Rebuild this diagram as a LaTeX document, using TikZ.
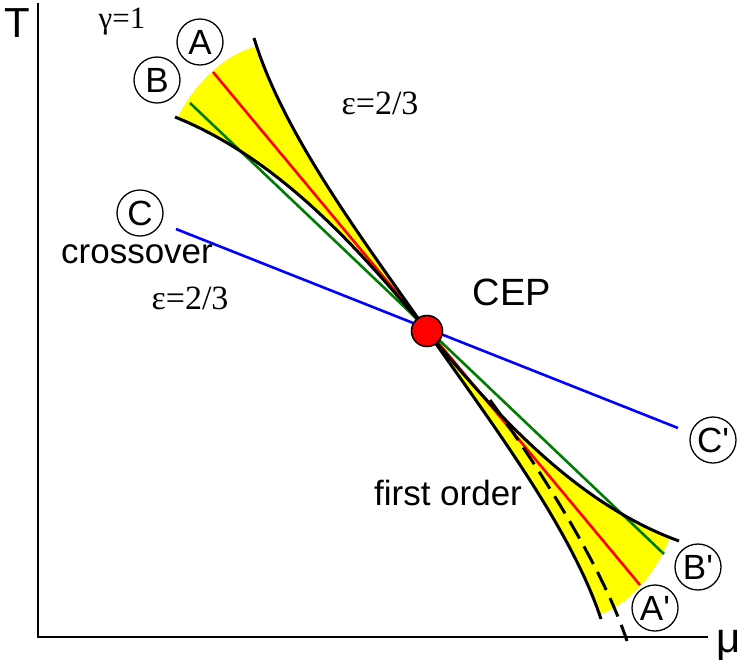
\documentclass[tikz,border=0pt]{standalone}
\usepackage{fontspec}
\newfontfamily\labsans{Liberation Sans}
\newfontfamily\labserif{Liberation Serif}
\definecolor{fanyellow}{RGB}{255,255,0}
\definecolor{linered}{RGB}{255,0,0}
\definecolor{linegreen}{RGB}{0,125,0}
\definecolor{lineblue}{RGB}{0,0,255}
\begin{document}
\begin{tikzpicture}[x=1pt,y=-1pt,
  curve/.style={line width=3pt, black},
  ray/.style={line width=2.6pt},
  circlab/.style={draw, circle, line width=1.3pt, minimum size=46pt, inner sep=0pt,
    font=\labsans\fontsize{35}{35}\selectfont},
  sanstext/.style={inner sep=0pt, font=\labsans\fontsize{#1}{#1}\selectfont},
  seriftext/.style={inner sep=0pt, font=\labserif\fontsize{#1}{#1}\selectfont}]
\useasboundingbox (0,0) rectangle (747,665);

% key points
\coordinate (cep) at (427,331);
\coordinate (urtop) at (254,38);
\coordinate (ulend) at (175,117);
\coordinate (llend) at (601,619);
\coordinate (lrend) at (679,541);

% yellow fans
\fill[fanyellow] (255,47) .. controls (283,134) and (364,241) .. (cep)
  .. controls (357,246) and (277,158) .. (178,117)
  .. controls (192,88) and (222,55) .. (255,47) -- cycle;
\fill[fanyellow] (cep) .. controls (490,421) and (571,528) .. (601,614)
  .. controls (630,603) and (655,575) .. (670,537)
  .. controls (577,504) and (497,416) .. (cep) -- cycle;

% axes
\coordinate (ytop) at (38,3);
\coordinate (orig) at (38,637);
\coordinate (xend) at (708,637);
\draw[line width=2pt] (ytop) -- (orig) -- (xend);
\node[sanstext=42] (tlab) at (17,23) {T};
\node[sanstext=42] (mulab) at (729,645) {μ};

% red and green lines
\coordinate (redtop) at (213,72);
\coordinate (redbot) at (640,585);
\coordinate (greentop) at (190,103);
\coordinate (greenbot) at (664,554);
\draw[ray, linered] (redtop) -- (redbot);
\draw[ray, linegreen] (greentop) -- (greenbot);

% black boundary curves
\draw[curve] (urtop) .. controls (283,134) and (364,241) .. (cep)
  .. controls (490,421) and (571,528) .. (llend);
\draw[curve] (ulend) .. controls (277,158) and (357,246) .. (cep)
  .. controls (497,416) and (577,504) .. (lrend);
\coordinate (dashstart) at (490,400);
\coordinate (dashend) at (627,641);
\draw[curve, dash pattern=on 20pt off 9pt] (dashstart) .. controls (532,458) and (600,560) .. (dashend);

% blue crossover line
\coordinate (bluetop) at (176,229);
\coordinate (bluebot) at (678,428);
\draw[ray, lineblue] (bluetop) -- (bluebot);

% CEP dot
\node[circle, fill=linered, draw=black, line width=1.6pt, minimum size=31pt, inner sep=0pt] (cepdot) at (cep) {};

% circled labels
\node[circlab] (A) at (200,42) {A};
\node[circlab] (B) at (157,80) {B};
\node[circlab] (C) at (140,213) {C};
\node[circlab] (Cp) at (713,440) {C'};
\node[circlab] (Bp) at (698,567) {B'};
\node[circlab] (Ap) at (655,608) {A'};

% texts
\node[seriftext=31] (gam) at (122,22) {γ=1};
\node[seriftext=34] (eps1) at (380,103) {ε=2/3};
\node[seriftext=34] (eps2) at (190,298) {ε=2/3};
\node[sanstext=35] (cross) at (137,254) {crossover};
\node[sanstext=38] (ceplab) at (512,292) {CEP};
\node[sanstext=35] (first) at (448,493) {first order};
\end{tikzpicture}
\end{document}
